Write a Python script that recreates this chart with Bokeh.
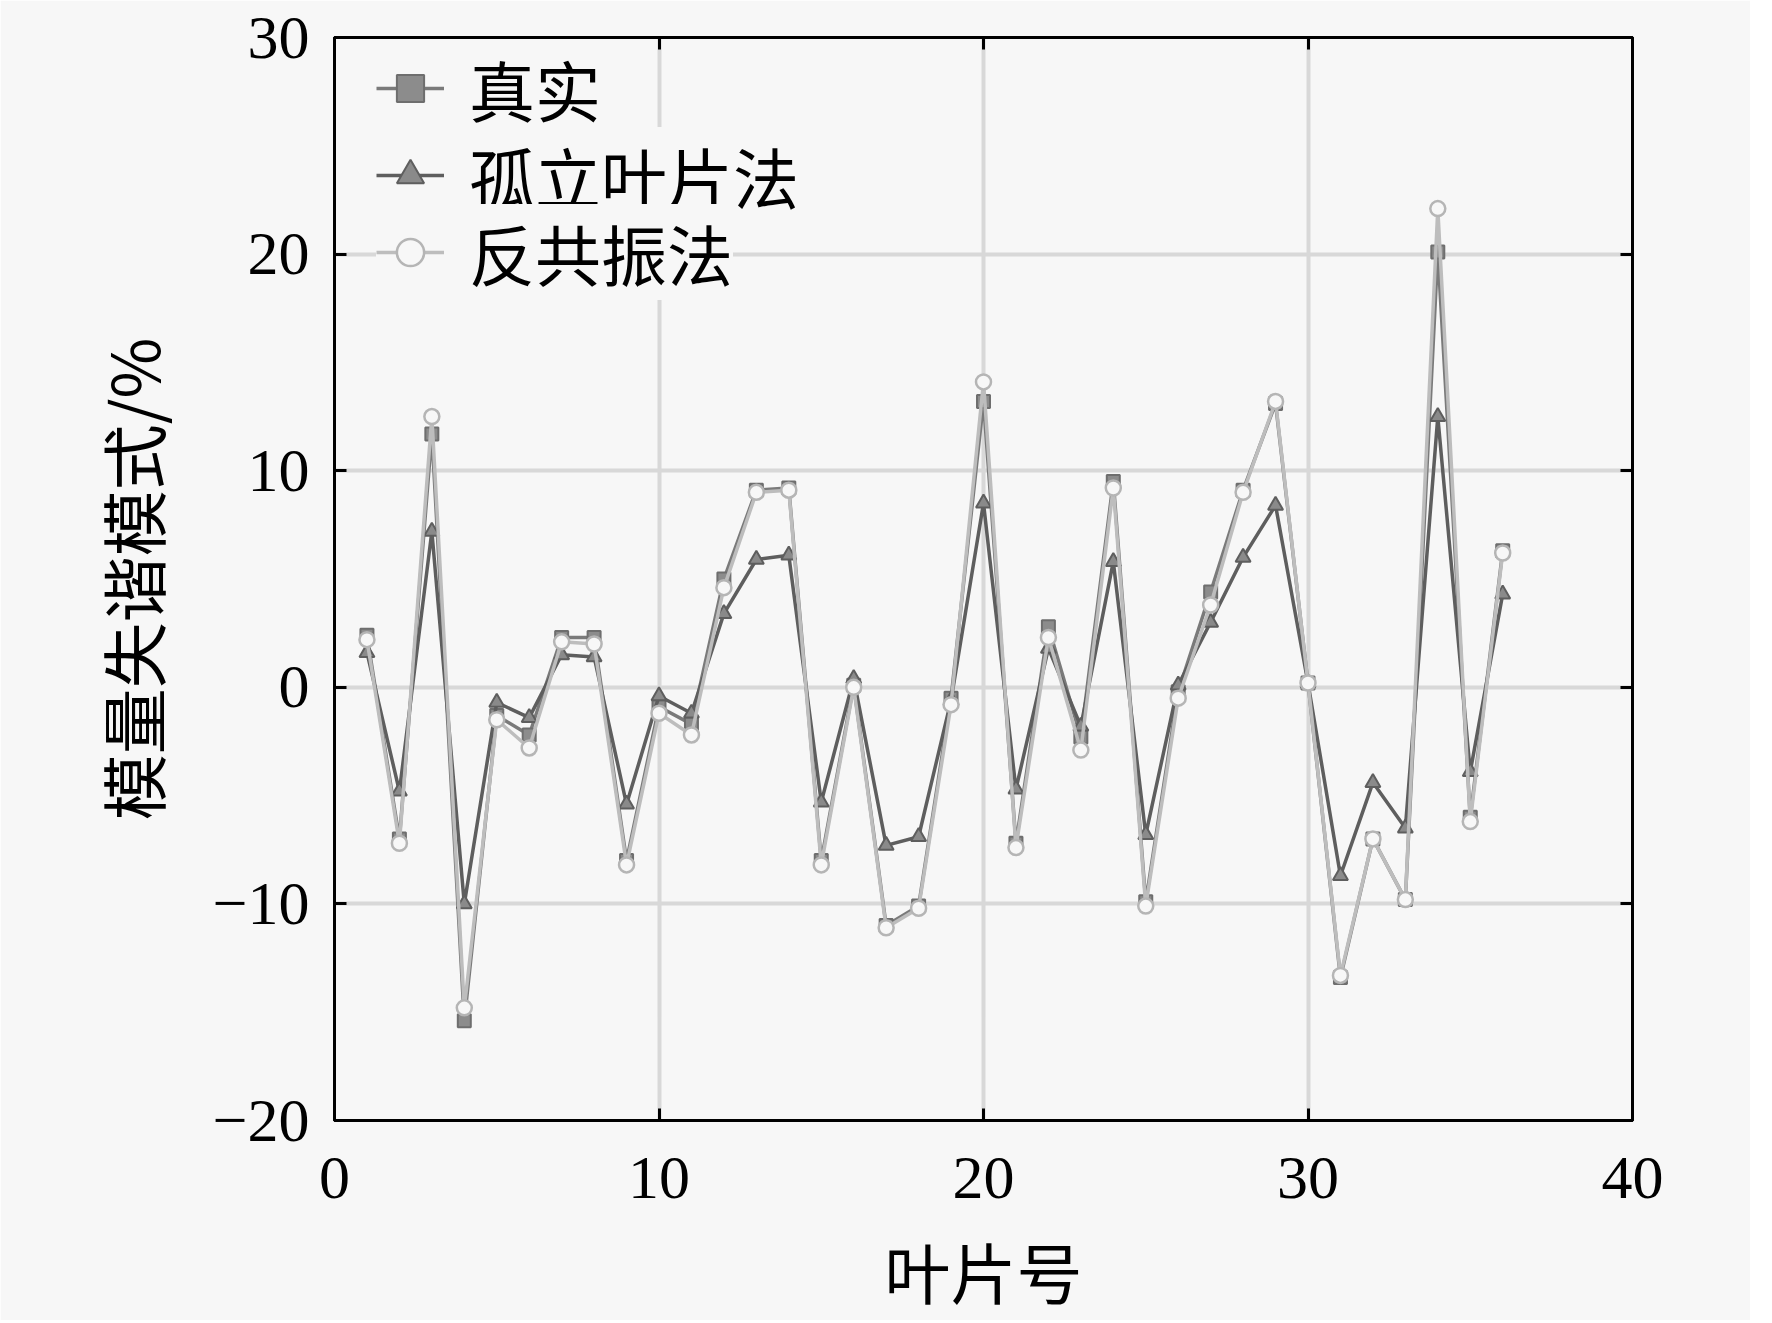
from bokeh.plotting import figure
from bokeh.models import (LinearAxis, SingleIntervalTicker, Legend, LegendItem,
                          CustomJSTickFormatter)
from bokeh.embed import file_html
from bokeh.resources import INLINE

blade_no = list(range(1, 37))
zhenshi = [2.4, -7.0, 11.7, -15.4, -1.3, -2.2, 2.3, 2.3, -8.0, -0.9, -1.7, 5.0,
           9.1, 9.2, -8.0, 0.1, -11.0, -10.1, -0.5, 13.2, -7.2, 2.8, -2.3, 9.5,
           -9.9, -0.2, 4.4, 9.1, 13.1, 0.2, -13.4, -7.0, -9.8, 20.1, -6.0, 6.3]
guli = [1.6, -4.8, 7.2, -10.0, -0.7, -1.4, 1.5, 1.4, -5.4, -0.4, -1.2, 3.4,
        5.9, 6.1, -5.3, 0.4, -7.3, -6.9, -0.6, 8.5, -4.7, 1.8, -1.8, 5.8,
        -6.8, 0.1, 3.0, 6.0, 8.4, 0.2, -8.7, -4.4, -6.5, 12.5, -3.9, 4.3]
fangongzhen = [2.2, -7.2, 12.5, -14.8, -1.5, -2.8, 2.1, 2.0, -8.2, -1.2, -2.2, 4.6,
               9.0, 9.1, -8.2, 0.0, -11.1, -10.2, -0.8, 14.1, -7.4, 2.3, -2.9, 9.2,
               -10.1, -0.5, 3.8, 9.0, 13.2, 0.2, -13.3, -7.0, -9.8, 22.1, -6.2, 6.2]
series_names = ["真实", "孤立叶片法", "反共振法"]
x_label = "叶片号"
y_label = "模量失谐模式/%"
y_tick_labels = {-20: "\u221220", -10: "\u221210", 0: "0", 10: "10", 20: "20", 30: "30"}

BG = "#f7f7f7"
SERIF = "Liberation Serif"
CJK = "Noto Sans CJK SC"

p = figure(width=1750, height=1320, x_range=(0, 40), y_range=(-20, 30),
           output_backend="svg", toolbar_location=None,
           background_fill_color=BG, border_fill_color=BG,
           min_border_left=334, min_border_right=118, min_border_top=37,
           min_border_bottom=199)
p.outline_line_color = "black"
p.outline_line_width = 3

p.xaxis.ticker = SingleIntervalTicker(interval=10)
p.yaxis.ticker = SingleIntervalTicker(interval=10)
p.yaxis.major_label_overrides = y_tick_labels

for ax in (p.xaxis[0], p.yaxis[0]):
    ax.axis_line_width = 3
    ax.major_tick_line_width = 3
    ax.major_tick_in = 12
    ax.major_tick_out = 0
    ax.minor_tick_line_color = None
    ax.major_label_text_font = SERIF
    ax.major_label_text_font_size = "62px"
    ax.major_label_text_color = "black"
    ax.axis_label_text_font = CJK
    ax.axis_label_text_font_size = "66px"
    ax.axis_label_text_font_style = "normal"
    ax.axis_label_text_color = "black"
p.xaxis.axis_label = x_label
p.yaxis.axis_label = y_label
p.xaxis.major_label_standoff = 33
p.xaxis.axis_label_standoff = 21
p.yaxis.major_label_standoff = 21
p.yaxis.axis_label_standoff = 31

blank = CustomJSTickFormatter(code="return ''")
for loc in ("above", "right"):
    ax = LinearAxis(ticker=SingleIntervalTicker(interval=10), formatter=blank,
                    axis_line_width=3, major_tick_line_width=3, major_tick_in=12,
                    major_tick_out=0, minor_tick_line_color=None,
                    major_label_standoff=0, major_label_text_font_size="1px")
    p.add_layout(ax, loc)

p.xgrid.grid_line_color = "#d8d8d8"
p.ygrid.grid_line_color = "#d8d8d8"
p.xgrid.grid_line_width = 4
p.ygrid.grid_line_width = 4

# 真实
l1 = p.line(blade_no, zhenshi, line_color="#7a7a7a", line_width=3.5)
m1 = p.scatter(blade_no, zhenshi, marker="square", size=13, fill_color="#8c8c8c",
               line_color="#6e6e6e", line_width=2)
# 孤立叶片法
l2 = p.line(blade_no, guli, line_color="#5e5e5e", line_width=3.5)
m2 = p.scatter(blade_no, guli, marker="triangle", size=15, fill_color="#8a8a8a",
               line_color="#5e5e5e", line_width=2)
# 反共振法
l3 = p.line(blade_no, fangongzhen, line_color="#bdbdbd", line_width=3.5)
m3 = p.scatter(blade_no, fangongzhen, marker="circle", size=15, fill_color=BG,
               line_color="#b5b5b5", line_width=2.5)

# one legend per row, so each row can be placed exactly
legend_rows = [(series_names[0], [l1, m1], 984),
               (series_names[1], [l2, m2], 897),
               (series_names[2], [l3, m3], 820)]
for label, rends, y_bottom in legend_rows:
    lg = Legend(items=[LegendItem(label=label, renderers=rends)],
                location=(42, y_bottom))
    lg.margin = 0
    lg.padding = 0
    lg.border_line_color = None
    lg.background_fill_color = BG
    lg.background_fill_alpha = 1.0
    lg.label_text_font = CJK
    lg.label_text_font_size = "66px"
    lg.label_text_color = "black"
    lg.glyph_width = 68
    lg.glyph_height = 70
    lg.label_height = 70
    lg.spacing = 0
    lg.label_standoff = 25
    p.add_layout(lg)

open("out.html", "w").write(file_html(p, INLINE))
